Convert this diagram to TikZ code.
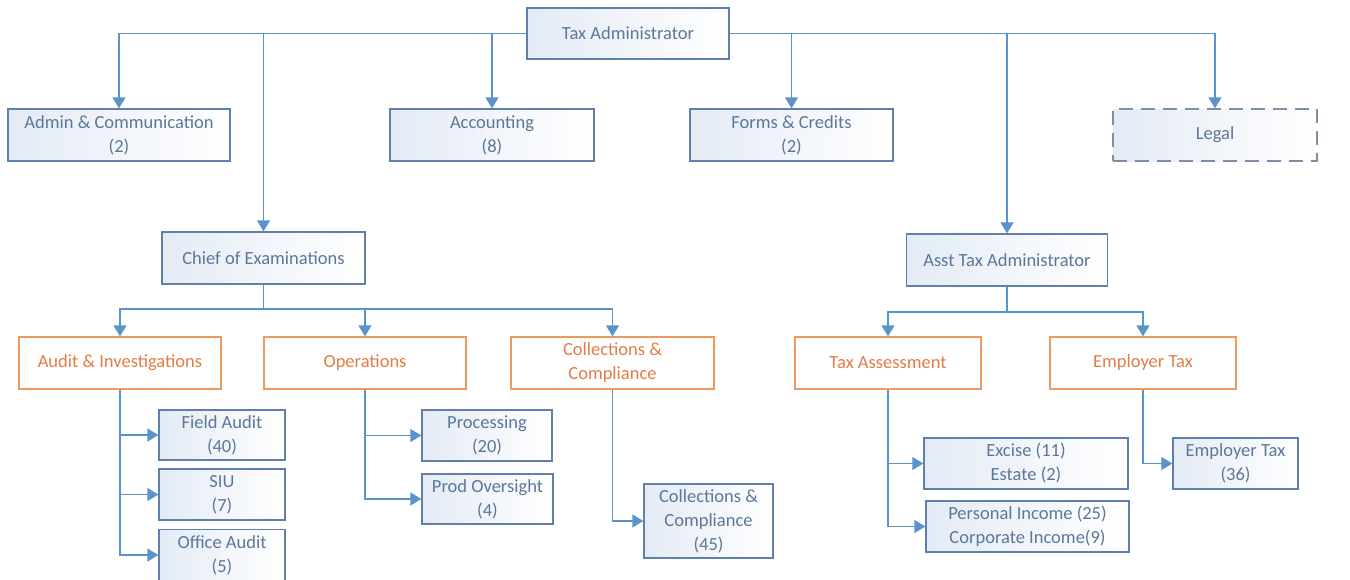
\documentclass[tikz,border=0pt]{standalone}
\usepackage{fontspec}
\setmainfont{Carlito}
\usetikzlibrary{arrows.meta}
\definecolor{conncol}{HTML}{5B93CC}
\definecolor{boxcol}{HTML}{5E80AA}
\definecolor{txtcol}{HTML}{5C7799}
\definecolor{orgcol}{HTML}{EE9A5E}
\definecolor{orgtxt}{HTML}{E07D48}
\definecolor{shadecol}{HTML}{E4EBF5}
\definecolor{legalcol}{HTML}{7D8EA6}
\tikzset{
  bluebox/.style={draw=boxcol, line width=1.3pt, left color=shadecol, right color=white,
    text=txtcol, align=center, inner sep=0pt, font=\fontsize{18.5}{24}\selectfont},
  orgbox/.style={draw=orgcol, line width=1.3pt, fill=white,
    text=orgtxt, align=center, inner sep=0pt, font=\fontsize{18.5}{24}\selectfont,
    minimum height=52pt},
  legalbox/.style={bluebox, draw=legalcol, dash pattern=on 14pt off 8pt},
  conn/.style={draw=conncol, line width=1.4pt},
  arr/.style={conn, -{Triangle[width=13pt,length=11pt]}}
}
\begin{document}
\begin{tikzpicture}[x=1pt,y=-1pt]
\useasboundingbox (0,0) rectangle (1350,579);
% top level
\node[bluebox, minimum width=202pt, minimum height=51pt] (tax) at (628,33.5) {Tax Administrator};
\node[bluebox, minimum width=222pt, minimum height=52pt] (admin) at (119,135) {Admin \& Communication\\(2)};
\node[bluebox, minimum width=204pt, minimum height=52pt] (acct) at (492,135) {Accounting\\(8)};
\node[bluebox, minimum width=203pt, minimum height=52pt] (forms) at (791.5,135) {Forms \& Credits\\(2)};
\node[legalbox, minimum width=204pt, minimum height=52pt] (legal) at (1215,135) {Legal};
\node[bluebox, minimum width=203pt, minimum height=52pt] (chief) at (263.5,258) {Chief of Examinations};
\node[bluebox, minimum width=201pt, minimum height=52pt] (asst) at (1007,260) {Asst Tax Administrator};
% orange level
\node[orgbox, minimum width=202pt] (audit) at (120,363) {Audit \& Investigations};
\node[orgbox, minimum width=202pt] (ops) at (365,363) {Operations};
\node[orgbox, minimum width=203pt] (coll) at (612.5,363) {Collections \&\\Compliance};
\node[orgbox, minimum width=186pt] (taxass) at (888,363) {Tax Assessment};
\node[orgbox, minimum width=186pt] (emp) at (1143,363) {Employer Tax};
% leaves
\node[bluebox, minimum width=126pt, minimum height=50pt] (field) at (222,435) {Field Audit\\(40)};
\node[bluebox, minimum width=126pt, minimum height=51pt] (siu) at (222,494.5) {SIU\\(7)};
\node[bluebox, minimum width=126pt, minimum height=51pt] (office) at (222,555) {Office Audit\\(5)};
\node[bluebox, minimum width=130pt, minimum height=51pt] (proc) at (487,435.5) {Processing\\(20)};
\node[bluebox, minimum width=131pt, minimum height=50pt] (prod) at (487.5,499) {Prod Oversight\\(4)};
\node[bluebox, minimum width=129pt, minimum height=74pt] (collc) at (708.5,521) {Collections \&\\Compliance\\(45)};
\node[bluebox, minimum width=204pt, minimum height=51pt] (excise) at (1026,463.5) {Excise (11)\\Estate (2)};
\node[bluebox, minimum width=203pt, minimum height=51pt] (pers) at (1027.5,526.5) {Personal Income (25)\\Corporate Income(9)};
\node[bluebox, minimum width=125pt, minimum height=51pt] (empt) at (1235.5,463.5) {Employer Tax\\(36)};
% top connectors
\draw[arr] (tax.west) -| (admin.north);
\draw[arr] (tax.west) -| (chief.north);
\draw[arr] (tax.west) -| (acct.north);
\draw[arr] (tax.east) -| (forms.north);
\draw[arr] (tax.east) -| (asst.north);
\draw[arr] (tax.east) -| (legal.north);
% chief buses
\coordinate (cbus) at (263.5,309);
\draw[conn] (chief.south) -- (cbus);
\draw[arr] (cbus) -| (audit.north);
\draw[arr] (cbus) -| (ops.north);
\draw[arr] (cbus) -| (coll.north);
\coordinate (abus) at (1007,312);
\draw[conn] (asst.south) -- (abus);
\draw[arr] (abus) -| (taxass.north);
\draw[arr] (abus) -| (emp.north);
% leaf connectors
\draw[arr] (audit.south) |- (field.west);
\draw[arr] (audit.south) |- (siu.west);
\draw[arr] (audit.south) |- (office.west);
\draw[arr] (ops.south) |- (proc.west);
\draw[arr] (ops.south) |- (prod.west);
\draw[arr] (coll.south) |- (collc.west);
\draw[arr] (taxass.south) |- (excise.west);
\draw[arr] (taxass.south) |- (pers.west);
\draw[arr] (emp.south) |- (empt.west);
\end{tikzpicture}
\end{document}
